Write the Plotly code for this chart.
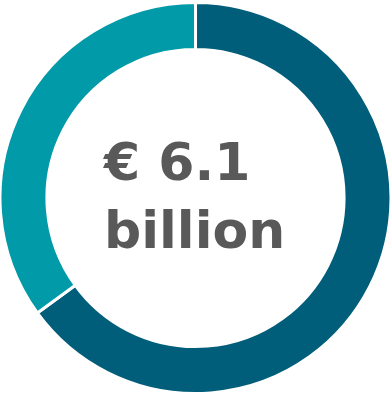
import plotly.graph_objects as go

# share of the € 6.1 billion total (read from the ring)
labels = ["Segment A", "Segment B"]
values = [65, 35]
colors = ["#005e7a", "#009aa8"]
center_text = "€ 6.1<br>billion"

fig = go.Figure(go.Pie(
    labels=labels,
    values=values,
    hole=0.76,
    sort=False,
    direction="clockwise",
    rotation=0,
    marker=dict(colors=colors, line=dict(color="white", width=3)),
    textinfo="none",
    hoverinfo="label+percent",
    showlegend=False,
))

fig.add_annotation(
    text=center_text,
    x=0.495, y=0.505, xref="paper", yref="paper",
    showarrow=False,
    align="left",
    font=dict(family="DejaVu Sans", size=52, color="#595959", weight="bold"),
)

fig.update_layout(
    width=391,
    height=396,
    margin=dict(l=0, r=0, t=0, b=0),
    paper_bgcolor="white",
    plot_bgcolor="white",
)

# drop the browser's default body margin so the ring fills the window
fig.write_html(
    "out.html",
    config={"displayModeBar": False},
    post_script="document.body.style.margin='0';",
)
